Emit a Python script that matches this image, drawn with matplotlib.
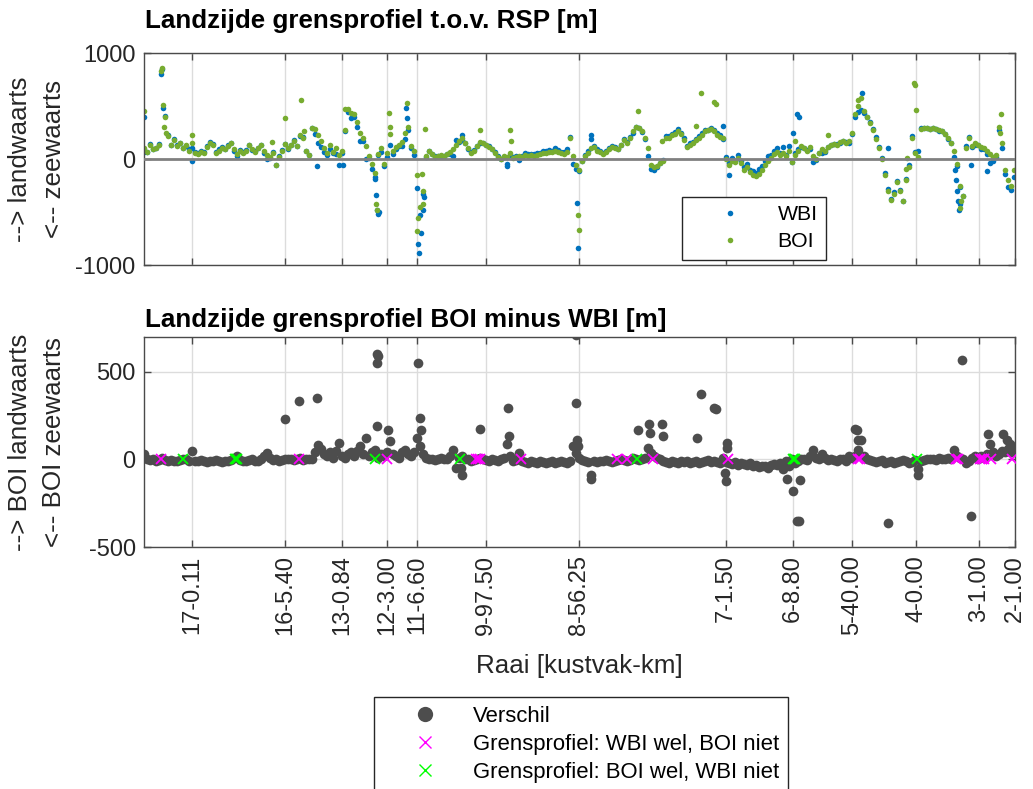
import matplotlib
matplotlib.use('Agg')
import matplotlib.pyplot as plt
import numpy as np
from matplotlib.lines import Line2D

plt.rcParams['font.family'] = ['Liberation Sans', 'DejaVu Sans']
plt.rcParams['axes.unicode_minus'] = False

# ---------------- data (raai index along the coast, step 3) ----------------
STEP = 3
boi = [100, 70, 135, 90, 100, 135, 860, 400, 220, 130,
       180, 120, 150, 100, 130, 80, 150, 60, 50, 70,
       60, 110, 150, 130, 60, 80, 100, 90, 120, 150,
       90, 50, 80, 60, 80, 130, 90, 70, 100, 130,
       80, 40, 20, 60, -60, 20, 80, 140, 100, 130,
       170, 120, 230, 200, 80, 40, 290, 280, 230, 170,
       100, 60, 130, 70, 100, 40, 80, 270, 470, 430,
       420, 350, 250, 200, 120, 30, -50, -130, 50, 100,
       -50, 60, 240, 80, 110, 130, 160, 250, 300, 120,
       80, -150, -450, -300, 30, 80, 50, 20, 30, 40,
       30, 50, 70, 90, 130, 170, 200, 150, 100, 60,
       80, 120, 160, 150, 130, 110, 90, 60, 20, 0,
       30, 20, 60, 10, 20, 30, 20, 40, 30, 40,
       30, 40, 50, 60, 60, 70, 70, 80, 70, 60,
       50, 70, 200, 30, -60, -100, -20, 30, 60, 100,
       110, 80, 70, 50, 70, 90, 110, 100, 90, 130,
       180, 150, 200, 260, 300, 290, 260, 200, 100, -60,
       -80, -70, -40, -20, 200, 200, 230, 240, 260, 240,
       180, 110, 130, 150, 180, 200, 230, 260, 270, 280,
       260, 230, 210, 200, 0, -60, -20, -30, 10, -40,
       -100, -80, -120, -150, -160, -140, -100, -60, -20, 10,
       50, 70, 40, 60, 30, 80, -30, 40, 80, 120,
       100, 80, 110, 30, 0, 60, 90, 80, 110, 130,
       140, 130, 160, 170, 150, 170, 250, 420, 500, 580,
       450, 400, 340, 270, 190, 100, 0, -150, -300, -390,
       -330, -220, -300, -400, -200, -80, 200, 60, 20, 280,
       290, 290, 285, 290, 280, 270, 260, 240, 200, 150,
       80, -50, -250, -350, 100, 200, 120, 150, 130, 110,
       100, 80, 50, 20, 40, 300, 150, -100, -200, -250,
       -100]

# BOI minus WBI at the same raaien
diff = [30, 5, -5, 0, -8, -5, 10, -5, -10, -5,
        -8, -10, -5, 0, 5, -10, 48, -8, -10, -5,
        -10, -12, -8, -10, -5, -10, -12, -8, -10, -5,
        10, 20, -5, -10, -8, -5, 5, -10, -8, 0,
        20, 38, 10, -5, 0, -8, -5, 0, 5, 0,
        -5, 0, 10, -5, 0, 5, 0, 40, 80, 60,
        30, 20, 40, 10, 50, 95, 20, 10, 30, 40,
        20, 48, 76, 30, 124, 20, 40, 57, 10, 30,
        20, 40, 105, 30, 20, 10, 40, 57, 30, 20,
        40, 124, 76, 30, 10, 0, 5, -5, 0, 10,
        5, 0, 20, 57, -48, 10, 20, 0, 5, -10,
        -5, 0, 10, 0, -5, -10, 0, -5, -10, 0,
        10, 86, 20, -10, -5, 38, -10, -15, -20, -10,
        -15, -20, -10, -15, -20, -15, -10, -20, -15, -10,
        -15, -20, -10, 76, 38, 10, -5, -10, -15, -86,
        -10, -15, -8, -10, -5, -10, -15, -10, -5, 0,
        -5, -10, -5, 10, 0, -5, 5, 10, 67, 38,
        20, 10, 0, -10, -15, -20, -10, -15, -20, -10,
        -15, -10, -20, -15, -10, -20, -15, -10, -5, -15,
        -10, -15, -20, 10, -15, -20, -25, -15, -30, -20,
        -25, -30, -20, -40, -30, -45, -35, -40, -50, -30,
        -25, -30, -20, -57, -10, -40, 0, -20, -10, 5,
        0, -5, 20, 57, 10, 0, 30, 10, -5, 0,
        -5, -10, 5, 0, -10, 20, 10, 20, 57, 114,
        20, 0, -5, -10, -15, -10, -5, -20, -15, -10,
        -20, -15, -10, -5, -10, -20, -15, -5, -57, -10,
        -5, 0, 5, 0, -5, 10, 0, 5, 10, 0,
        57, 20, 10, 0, -20, -10, 10, 20, 0, 20,
        10, 30, 86, 40, 20, 30, 50, 40, 60, 40,
        70]

# isolated points read separately
wbi_extra_x = [0, 17, 19, 48, 173, 199, 231, 232, 233, 234, 235, 262, 263,
               274, 275, 277, 279, 280, 318, 363, 433, 434, 447, 579, 585,
               649, 653, 655, 718, 744, 811, 812, 813, 814, 815, 816, 827, 843]
wbi_extra_y = [400, 800, 480, -20, -63, -53, -170, -340, -480, -520, -500, 480, 390,
               -800, -890, -700, -480, -360, 230, -50, -415, -840, 230, 310, -150,
               250, 420, 400, 620, 100, -100, -200, -300, -400, -480, -420, -60, -110]
boi_extra_x = [0, 17, 19, 20, 22, 48, 128, 141, 157, 160, 201, 232, 233,
               245, 246, 263, 273, 274, 278, 279, 281, 336, 366, 367, 434, 435,
               494, 518, 552, 557, 570, 572, 651, 684, 714, 762, 763,
               770, 771, 772, 816, 817, 856, 857]
boi_extra_y = [450, 830, 510, 300, 250, 230, 165, 390, 560, 260, 470, -420, -480,
               430, 300, 530, -680, -560, -140, -420, 280, 270, 270, 170, -530, -670,
               455, 170, 315, 620, 540, 520, 170, 230, 560, -90, 10,
               720, 700, 465, -460, -400, 250, 420]
diff_extra_x = [141, 155, 173, 233, 234, 233, 233, 244, 276, 277, 274,
                318, 317, 336, 364, 365, 432, 432, 433, 434, 447,
                494, 505, 506, 518, 519, 553, 557, 570, 572,
                583, 583, 581, 582, 643, 649, 653, 655, 656,
                711, 713, 714, 744, 774, 818, 827, 844, 859, 863, 866]
diff_extra_y = [232, 337, 352, 605, 590, 550, 190, 171, 238, 171, 550,
                -86, -48, 175, 295, 133, 710, 324, 114, 76, -114,
                168, 200, 152, 200, 137, 124, 377, 295, 290,
                95, 67, -76, -124, -110, -181, -352, -352, -120,
                175, 171, 114, -362, -86, 571, -320, 143, 143, 110, 90]

# grensprofiel present in only one of the two
wbi_only_x = [17, 155, 243, 332, 334, 336, 377, 473, 483, 509, 584,
              714, 716, 812, 814, 836, 838, 840, 847, 868]
boi_only_x = [39, 91, 92, 93, 231, 316, 493, 649, 650, 651, 773]

tick_pos = [48, 141, 198, 243, 273, 342, 435, 582, 649, 708, 772, 835, 871]
tick_lab = ['17-0.11', '16-5.40', '13-0.84', '12-3.00', '11-6.60', '9-97.50',
            '8-56.25', '7-1.50', '6-8.80', '5-40.00', '4-0.00', '3-1.00', '2-1.00']

# ---------------- derived ----------------
x_base = np.arange(len(boi)) * STEP
boi_a = np.array(boi, float)
diff_a = np.array(diff, float)
wbi_a = boi_a - diff_a

wbi_x = np.concatenate([x_base, wbi_extra_x])
wbi_y = np.concatenate([wbi_a, wbi_extra_y])
boi_x = np.concatenate([x_base, boi_extra_x])
boi_y = np.concatenate([boi_a, boi_extra_y])
dif_x = np.concatenate([x_base, diff_extra_x])
dif_y = np.concatenate([diff_a, diff_extra_y])

# ---------------- styling ----------------
C_WBI = '#0072BD'
C_BOI = '#77AC30'
C_DIF = '#4D4D4D'
C_AX = '#4a4a4a'
C_TXT = '#262626'
FS = 17

fig = plt.figure(figsize=(10.33, 7.89), dpi=100)
W, H = 1033, 789
def rect(l, t, r, b):
    return [l / W, 1 - b / H, (r - l) / W, (b - t) / H]

ax1 = fig.add_axes(rect(144, 53, 1015, 265))
ax2 = fig.add_axes(rect(144, 337, 1015, 547))

for ax in (ax1, ax2):
    ax.set_xlim(0, 871)
    ax.set_xticks(tick_pos)
    ax.grid(True, color='#dcdcdc', lw=1.0, zorder=0)
    ax.set_axisbelow(True)
    ax.tick_params(direction='in', length=5, width=1, colors=C_AX,
                   labelcolor=C_TXT, labelsize=FS, top=True, right=True, pad=6)
    for s in ax.spines.values():
        s.set_color(C_AX)
        s.set_linewidth(1.0)

# top panel
MS_TOP = 4.0
ax1.plot(wbi_x, wbi_y, 'o', color=C_WBI, ms=MS_TOP, mew=0, zorder=2, label='WBI')
ax1.plot(boi_x, boi_y, 'o', color=C_BOI, ms=MS_TOP, mew=0, zorder=2.1, label='BOI')
ax1.axhline(0, color='#808080', lw=2.0, zorder=3)
ax1.set_ylim(-1000, 1000)
ax1.set_yticks([-1000, 0, 1000])
ax1.set_xticklabels([])
ax1.set_ylabel('--> landwaarts\n<-- zeewaarts', fontsize=18.7, color=C_TXT,
               linespacing=1.5)
ax1.yaxis.set_label_coords(-0.09, 0.5)
h_w = Line2D([], [], ls='none', marker='o', color=C_WBI, ms=MS_TOP, mew=0)
h_b = Line2D([], [], ls='none', marker='o', color=C_BOI, ms=MS_TOP, mew=0)
leg1 = ax1.legend([h_w, h_b], ['WBI', 'BOI'], loc='upper left',
                  bbox_to_anchor=((682 - 144) / 871, (265 - 197) / 212),
                  borderaxespad=0, fontsize=15.3, handlelength=3.7,
                  handletextpad=0.4, labelspacing=0.36, borderpad=0.4,
                  fancybox=False, framealpha=1, edgecolor=C_TXT)
leg1.get_frame().set_linewidth(1.0)

# bottom panel
ax2.plot(dif_x, dif_y, 'o', color=C_DIF, ms=7, mew=0, zorder=2)
ax2.plot(wbi_only_x, np.zeros(len(wbi_only_x)), 'x', color='#FF00FF', ms=7,
         mew=1.3, zorder=3)
ax2.plot(boi_only_x, np.zeros(len(boi_only_x)), 'x', color='#00FF00', ms=7,
         mew=1.3, zorder=3)
ax2.set_ylim(-500, 700)
ax2.set_yticks([-500, 0, 500])
ax2.set_xticklabels(tick_lab, rotation=90, va='top', ha='center')
ax2.set_ylabel('--> BOI landwaarts\n<-- BOI zeewaarts', fontsize=18.7,
               color=C_TXT, linespacing=1.5)
ax2.yaxis.set_label_coords(-0.09, 0.5)
ax2.set_xlabel('Raai [kustvak-km]', fontsize=18.7, color=C_TXT)
ax2.xaxis.set_label_coords(0.5, -0.51)
ax2.xaxis.label.set_va('top')

fig.text(145 / W, 1 - 28 / H, 'Landzijde grensprofiel t.o.v. RSP [m]',
         fontsize=18.7, fontweight='bold', color='black', va='baseline', ha='left')
fig.text(145 / W, 1 - 327 / H, 'Landzijde grensprofiel BOI minus WBI [m]',
         fontsize=18.7, fontweight='bold', color='black', va='baseline', ha='left')

hd = Line2D([], [], ls='none', marker='o', color=C_DIF, ms=11, mew=0)
hm = Line2D([], [], ls='none', marker='x', color='#FF00FF', ms=8, mew=1.0)
hg = Line2D([], [], ls='none', marker='x', color='#00FF00', ms=8, mew=1.0)
leg2 = fig.legend([hd, hm, hg], ['Verschil', 'Grensprofiel: WBI wel, BOI niet',
                                 'Grensprofiel: BOI wel, WBI niet'],
                  loc='upper left', bbox_to_anchor=(374 / W, 1 - 697 / H),
                  borderaxespad=0, fontsize=15.9, handlelength=3.84,
                  handletextpad=0.23, labelspacing=0.31, borderpad=0.4,
                  fancybox=False, framealpha=1, edgecolor=C_TXT)
leg2.get_frame().set_linewidth(1.0)

fig.savefig('out.png', dpi=100)
